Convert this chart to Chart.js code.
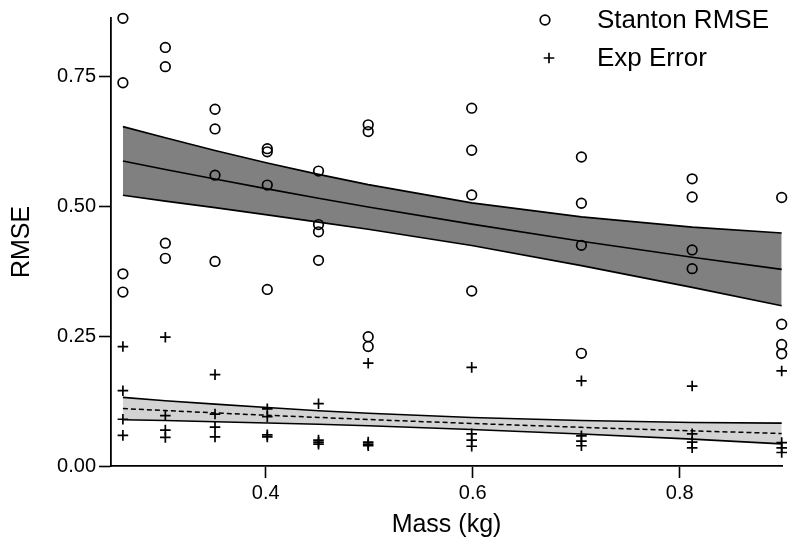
<!DOCTYPE html>
<html>
<head>
<meta charset="utf-8">
<script src="https://cdn.jsdelivr.net/npm/chart.js@4.4.1/dist/chart.umd.min.js"></script>
<style>
  html, body { margin: 0; padding: 0; background: #ffffff; }
  #wrap { width: 800px; height: 556px; position: relative; }
</style>
</head>
<body>
<div id="wrap"><canvas id="c" width="800" height="556"></canvas></div>
<script>
// ---- data ----
const massKg = [0.262, 0.303, 0.351, 0.4015, 0.451, 0.499, 0.599, 0.705, 0.812, 0.8985];

const stantonRmse = [
  [0.862, 0.738, 0.370, 0.335],
  [0.806, 0.769, 0.429, 0.400],
  [0.687, 0.649, 0.560, 0.394],
  [0.611, 0.605, 0.541, 0.340],
  [0.568, 0.465, 0.451, 0.396],
  [0.657, 0.644, 0.249, 0.230],
  [0.689, 0.608, 0.522, 0.337],
  [0.595, 0.506, 0.425, 0.217],
  [0.553, 0.518, 0.416, 0.380],
  [0.517, 0.273, 0.234, 0.216]
];

const expError = [
  [0.230, 0.145, 0.090, 0.059],
  [0.248, 0.097, 0.069, 0.055],
  [0.176, 0.100, 0.075, 0.056],
  [0.110, 0.095, 0.060, 0.056],
  [0.120, 0.050, 0.046, 0.042],
  [0.198, 0.046, 0.042, 0.039],
  [0.190, 0.062, 0.050, 0.038],
  [0.164, 0.058, 0.048, 0.039],
  [0.154, 0.062, 0.046, 0.035],
  [0.183, 0.045, 0.035, 0.026]
];

// fitted trend and confidence band for Stanton RMSE
const stantonFit   = [0.5875, 0.571, 0.5525, 0.5336, 0.5156, 0.4989, 0.4657, 0.4328, 0.4020, 0.3787];
const stantonUpper = [0.6535, 0.632, 0.6075, 0.5836, 0.5616, 0.5419, 0.5067, 0.4798, 0.4600, 0.4487];
const stantonLower = [0.5215, 0.510, 0.4975, 0.4836, 0.4696, 0.4559, 0.4247, 0.3858, 0.3440, 0.3087];

// fitted trend and confidence band for Exp Error
const expFit   = [0.1107, 0.1067, 0.1022, 0.0977, 0.0935, 0.0895, 0.0819, 0.0745, 0.0677, 0.0626];
const expUpper = [0.1322, 0.1257, 0.1192, 0.1127, 0.1065, 0.1015, 0.0934, 0.0875, 0.0837, 0.0826];
const expLower = [0.0892, 0.0877, 0.0852, 0.0827, 0.0805, 0.0775, 0.0704, 0.0615, 0.0517, 0.0426];

const yTicks = [0, 0.25, 0.5, 0.75];
const xTicks = [0.4, 0.6, 0.8];
const seriesNames = ['Stanton RMSE', 'Exp Error'];

// ---- build chart data ----
const toPts = (ys) => massKg.map((m, i) => ({x: m, y: ys[i]}));
const scatterPts = (cols) => {
  const out = [];
  cols.forEach((vals, i) => vals.forEach(v => out.push({x: massKg[i], y: v})));
  return out;
};

const FONT = '"Liberation Sans", Arial, Helvetica, sans-serif';

const lineDs = (label, ys, extra) => Object.assign({
  type: 'line', label, data: toPts(ys), showLine: true,
  borderColor: '#000', borderWidth: 1.6, pointRadius: 0, pointHoverRadius: 0,
  tension: 0, fill: false, order: 5, clip: false
}, extra || {});

const datasets = [
  lineDs('stU', stantonUpper, {fill: '+1', backgroundColor: '#808080'}),
  lineDs('stL', stantonLower),
  lineDs('stF', stantonFit),
  lineDs('exU', expUpper, {fill: '+1', backgroundColor: '#d3d3d3'}),
  lineDs('exL', expLower),
  lineDs('exF', expFit, {borderDash: [5, 3], borderWidth: 1.5}),
  {
    label: seriesNames[0], data: scatterPts(stantonRmse), pointStyle: 'circle',
    pointRadius: 4.8, pointBorderWidth: 1.7, borderColor: '#000', pointBorderColor: '#000',
    backgroundColor: 'rgba(0,0,0,0)', pointBackgroundColor: 'rgba(0,0,0,0)', order: 1, clip: false
  },
  {
    label: seriesNames[1], data: scatterPts(expError), pointStyle: 'cross',
    pointRadius: 5.3, pointBorderWidth: 1.7, borderColor: '#000', pointBorderColor: '#000',
    backgroundColor: '#000', order: 1, clip: false
  }
];

// legend drawn inside the plot area (top right)
const legendPlugin = {
  id: 'innerLegend',
  afterDraw(chart) {
    const ctx = chart.ctx;
    ctx.save();
    const items = [
      {style: 'circle', r: 4.8, x: 545, y: 20, text: seriesNames[0]},
      {style: 'cross', r: 5.3, x: 549, y: 58, text: seriesNames[1]}
    ];
    items.forEach(it => {
      ctx.strokeStyle = '#000';
      ctx.fillStyle = 'rgba(0,0,0,0)';
      ctx.lineWidth = 1.7;
      Chart.helpers.drawPoint(ctx, {pointStyle: it.style, radius: it.r, rotation: 0, borderWidth: 1.7}, it.x, it.y);
      ctx.fillStyle = '#000';
      ctx.font = '26px ' + FONT;
      ctx.textBaseline = 'middle';
      ctx.textAlign = 'left';
      ctx.fillText(it.text, 597, it.y + 1);
    });
    ctx.restore();
  }
};

new Chart(document.getElementById('c'), {
  type: 'scatter',
  data: {datasets},
  plugins: [legendPlugin],
  options: {
    responsive: false,
    animation: false,
    devicePixelRatio: 1,
    layout: {padding: {top: 18, right: 18, left: 0, bottom: 0}},
    plugins: {
      legend: {display: false},
      tooltip: {enabled: false},
      filler: {drawTime: 'beforeDatasetsDraw'}
    },
    scales: {
      x: {
        type: 'linear', min: 0.2505, max: 0.8988,
        afterFit(s) { s.height = 90; },
        afterBuildTicks(s) { s.ticks = xTicks.map(v => ({value: v})); },
        grid: {drawOnChartArea: false, drawTicks: true, tickLength: 12, tickColor: '#000', tickWidth: 1.6},
        border: {display: true, color: '#000', width: 1.8},
        ticks: {
          color: '#000', padding: 3, font: {family: FONT, size: 20},
          callback: (v) => Number(v).toFixed(1), maxRotation: 0, autoSkip: false
        },
        title: {
          display: true, text: 'Mass (kg)', color: '#000',
          font: {family: FONT, size: 25}, padding: {top: 0, bottom: 16}
        }
      },
      y: {
        type: 'linear', min: 0, max: 0.8627,
        afterFit(s) { s.width = 111; },
        afterBuildTicks(s) { s.ticks = yTicks.map(v => ({value: v})); },
        grid: {drawOnChartArea: false, drawTicks: true, tickLength: 12, tickColor: '#000', tickWidth: 1.6},
        border: {display: true, color: '#000', width: 1.8},
        ticks: {
          color: '#000', padding: 3, font: {family: FONT, size: 20},
          callback: (v) => Number(v).toFixed(2), autoSkip: false
        },
        title: {
          display: true, text: 'RMSE', color: '#000',
          font: {family: FONT, size: 25}, padding: {top: 7, bottom: 0}
        }
      }
    }
  }
});
</script>
</body>
</html>
